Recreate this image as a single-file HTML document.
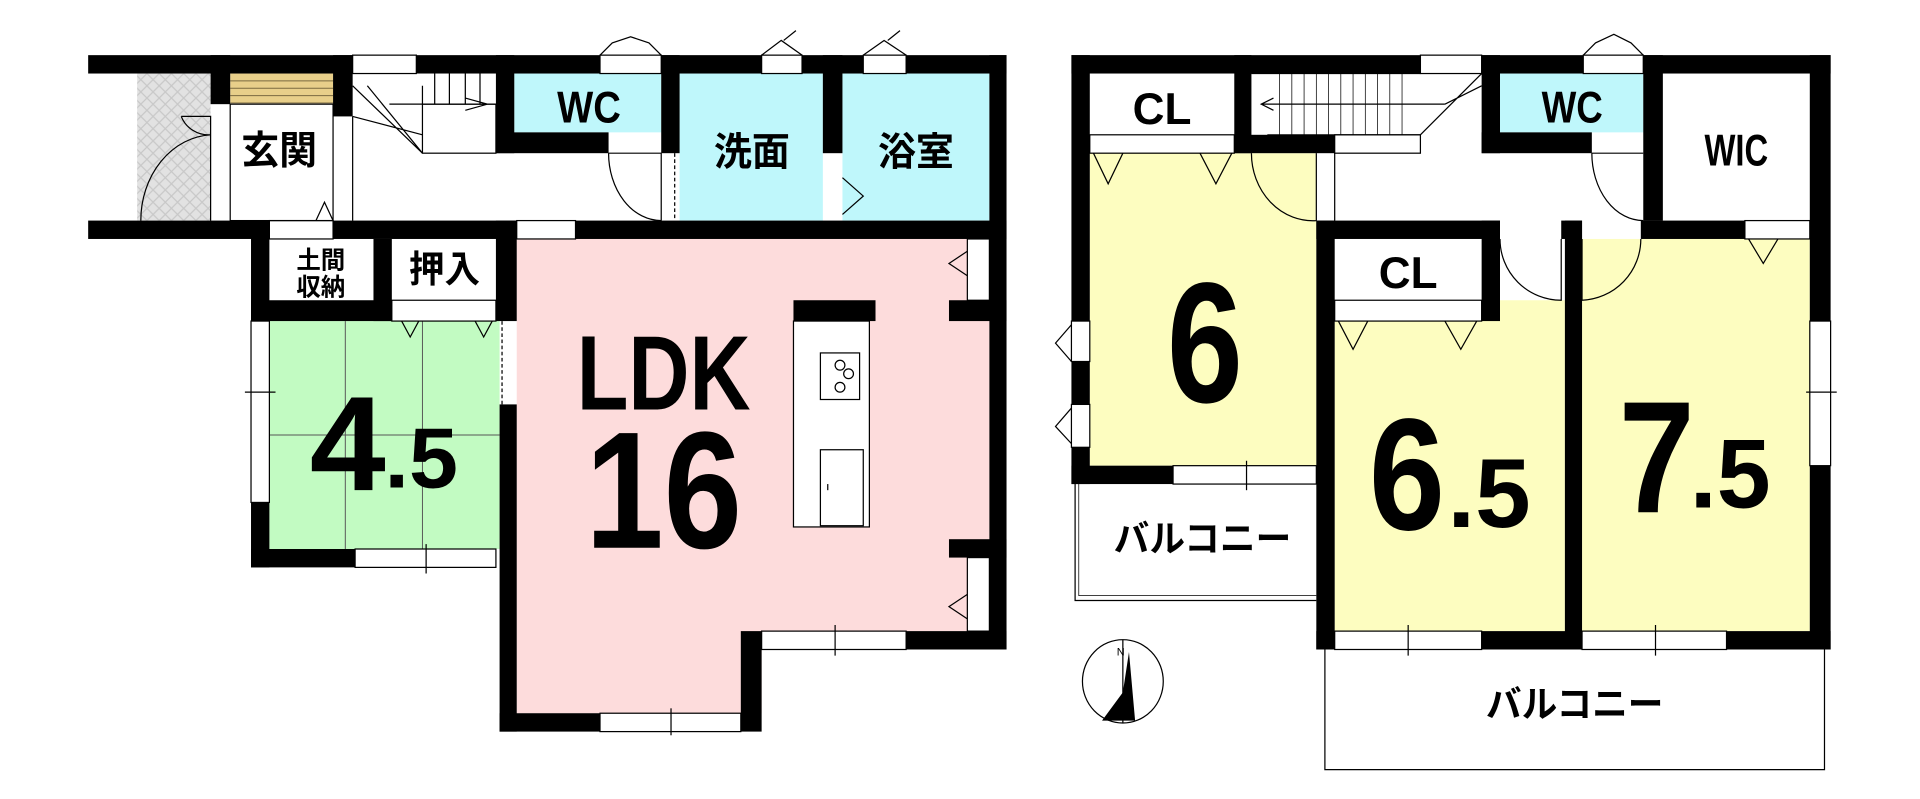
<!DOCTYPE html>
<html><head><meta charset="utf-8"><style>
html,body{margin:0;padding:0;background:#fff;}
svg{display:block}
text{font-family:"Liberation Sans","Noto Sans CJK JP",sans-serif;font-weight:bold;fill:#000}
</style></head><body>
<svg width="1920" height="799" viewBox="0 0 1568 652" preserveAspectRatio="none" xmlns="http://www.w3.org/2000/svg">
<defs>
<pattern id="hatch" width="10" height="10" patternUnits="userSpaceOnUse"><rect width="10" height="10" fill="#e2e2e2"/><path d="M0 0L10 10M10 0L0 10" stroke="#c8c8c8" stroke-width="1"/></pattern>
</defs>
<rect x="112" y="60" width="60" height="120" fill="url(#hatch)"/>
<rect x="188" y="60" width="84" height="24" fill="#e8cf8a"/>
<g stroke="#7a6a40" stroke-width="0.8"><line x1="188" y1="66" x2="272" y2="66"/><line x1="188" y1="72" x2="272" y2="72"/><line x1="188" y1="78" x2="272" y2="78"/><line x1="188" y1="84" x2="272" y2="84"/></g>
<rect x="420" y="60" width="120" height="48" fill="#bff7fb"/>
<rect x="555" y="60" width="117" height="120" fill="#bff7fb"/>
<rect x="688" y="60" width="120" height="120" fill="#bff7fb"/>
<rect x="220" y="262" width="188" height="186" fill="#c2fbc2"/>
<g stroke="#555" stroke-width="0.8"><line x1="282" y1="262" x2="282" y2="448"/><line x1="345" y1="262" x2="345" y2="448"/><line x1="220" y1="355" x2="408" y2="355"/></g>
<polygon points="422,195 808,195 808,515 622,515 622,582 422,582" fill="#fddcdc"/>
<rect x="1225" y="60" width="117" height="48" fill="#bff7fb"/>
<rect x="890" y="125" width="185" height="255" fill="#fdfdc0"/>
<rect x="1090" y="245" width="188" height="270" fill="#fdfdc0"/>
<rect x="1292" y="195" width="186" height="320" fill="#fdfdc0"/>
<g fill="#000">
<rect x="72" y="45" width="750" height="15"/>
<rect x="72" y="180" width="350" height="15"/>
<rect x="470" y="180" width="352" height="15"/>
<rect x="172" y="45" width="16" height="40"/>
<rect x="272" y="45" width="16" height="50"/>
<rect x="405" y="45" width="15" height="80"/>
<rect x="405" y="108" width="92" height="17"/>
<rect x="540" y="45" width="15" height="80"/>
<rect x="672" y="45" width="16" height="80"/>
<rect x="808" y="45" width="14" height="485"/>
<rect x="205" y="180" width="15" height="82"/>
<rect x="205" y="245" width="115" height="17"/>
<rect x="305" y="195" width="15" height="67"/>
<rect x="405" y="180" width="17" height="82"/>
<rect x="408" y="330" width="14" height="267"/>
<rect x="205" y="410" width="15" height="53"/>
<rect x="205" y="448" width="85" height="15"/>
<rect x="408" y="582" width="82" height="15"/>
<rect x="605" y="515" width="17" height="82"/>
<rect x="740" y="515" width="82" height="15"/>
<rect x="648" y="245" width="67" height="17"/>
<rect x="775" y="245" width="47" height="17"/>
<rect x="775" y="440" width="47" height="15"/>
<rect x="875" y="45" width="620" height="15"/>
<rect x="875" y="45" width="15" height="217"/>
<rect x="875" y="295" width="15" height="35"/>
<rect x="875" y="365" width="15" height="30"/>
<rect x="875" y="380" width="83" height="15"/>
<rect x="1008" y="45" width="14" height="80"/>
<rect x="1008" y="110" width="82" height="15"/>
<rect x="1210" y="45" width="15" height="80"/>
<rect x="1210" y="108" width="90" height="17"/>
<rect x="1342" y="45" width="16" height="135"/>
<rect x="1478" y="45" width="17" height="217"/>
<rect x="1478" y="380" width="17" height="150"/>
<rect x="1075" y="180" width="150" height="15"/>
<rect x="1275" y="180" width="17" height="15"/>
<rect x="1340" y="180" width="85" height="15"/>
<rect x="1075" y="180" width="15" height="350"/>
<rect x="1210" y="180" width="15" height="82"/>
<rect x="1278" y="180" width="14" height="350"/>
<rect x="1075" y="515" width="15" height="15"/>
<rect x="1210" y="515" width="82" height="15"/>
<rect x="1410" y="515" width="85" height="15"/>
</g>
<g fill="#fff" stroke="#000" stroke-width="1">
<rect x="288" y="45" width="52" height="15"/>
<rect x="490" y="45" width="50" height="15"/>
<rect x="622" y="45" width="33" height="15"/>
<rect x="705" y="45" width="35" height="15"/>
<rect x="220" y="180" width="52" height="15"/>
<rect x="422" y="180" width="48" height="15"/>
<rect x="320" y="245" width="85" height="17"/>
<rect x="290" y="448" width="115" height="15"/>
<rect x="205" y="262" width="15" height="148"/>
<rect x="490" y="582" width="115" height="15"/>
<rect x="622" y="515" width="118" height="15"/>
<rect x="790" y="195" width="18" height="50"/>
<rect x="790" y="455" width="18" height="60"/>
<rect x="648" y="262" width="62" height="168"/>
<rect x="670" y="288" width="32" height="38"/>
<rect x="670" y="367" width="35" height="62"/>
<rect x="345" y="85" width="60" height="40"/>
<rect x="1160" y="45" width="50" height="15"/>
<rect x="1293" y="45" width="49" height="15"/>
<rect x="875" y="262" width="15" height="33"/>
<rect x="875" y="330" width="15" height="35"/>
<rect x="958" y="380" width="117" height="15"/>
<rect x="890" y="110" width="118" height="15"/>
<rect x="1090" y="245" width="120" height="17"/>
<rect x="1090" y="515" width="120" height="15"/>
<rect x="1292" y="515" width="118" height="15"/>
<rect x="1478" y="262" width="17" height="118"/>
<rect x="1425" y="180" width="53" height="15"/>
<rect x="1090" y="110" width="70" height="15"/>
</g>
<g fill="none" stroke="#000" stroke-width="1">
<rect x="188" y="85" width="84" height="95"/>
<line x1="288" y1="95" x2="288" y2="180"/>
<path d="M148 95 L172 95 L172 180 M172 110 A60 70 0 0 0 115 180 M148 95 A24 24 0 0 0 172 110"/>
<path d="M258 180 L265 165 L272 180"/>
<path d="M288 70 L345 125 M288 95 L345 110 M300 70 L345 125 M345 70 L345 85 M355 60 L355 85 M367 60 L367 85 M380 60 L380 85 M392 60 L392 85 M318 85 L405 85 M380 80 L398 85 L380 90"/>
<path d="M497 125 L540 125 L540 180 M497 125 A43 55 0 0 0 540 180"/>
<path d="M688 145 L705 160 L688 175"/>
<path d="M490 45 L500 35 L515 30 L530 35 L540 45"/>
<path d="M622 45 L638 33 L655 45 M640 33 L650 25"/>
<path d="M705 45 L722 33 L740 45 M725 33 L735 25"/>
<path d="M790 205 L775 215 L790 225 M790 485 L775 495 L790 505"/>
<path d="M328 262 L335 275 L342 262 M388 262 L395 275 L402 262"/>
<line x1="472" y1="185" x2="520" y2="185" stroke-dasharray="3,2"/>
<line x1="410" y1="262" x2="410" y2="330" stroke-dasharray="3,2"/>
<line x1="551" y1="80" x2="551" y2="180" stroke-dasharray="3,2"/>
<circle cx="686" cy="298" r="4"/><circle cx="693" cy="305" r="4"/><circle cx="686" cy="316" r="4"/>
<line x1="676" y1="395" x2="676" y2="400"/>
<path d="M893 125 L905 150 L917 125 M980 125 L993 150 L1006 125"/>
<path d="M1022 125 A50 55 0 0 0 1075 180 M1075 125 L1075 180 M1090 125 L1090 180"/>
<path d="M1022 60 L1160 60 M1035 110 L1160 110 M1030 85 L1180 85 M1040 80 L1030 85 L1040 90 M1160 110 L1210 60 M1180 85 L1210 70"/>
<g stroke-width="0.6"><line x1="1045" y1="60" x2="1045" y2="110"/><line x1="1055" y1="60" x2="1055" y2="110"/><line x1="1065" y1="60" x2="1065" y2="110"/><line x1="1075" y1="60" x2="1075" y2="110"/><line x1="1085" y1="60" x2="1085" y2="110"/><line x1="1095" y1="60" x2="1095" y2="110"/><line x1="1105" y1="60" x2="1105" y2="110"/><line x1="1115" y1="60" x2="1115" y2="110"/><line x1="1125" y1="60" x2="1125" y2="110"/><line x1="1135" y1="60" x2="1135" y2="110"/><line x1="1145" y1="60" x2="1145" y2="110"/></g>
<path d="M1300 125 L1342 125 M1300 125 A42 55 0 0 0 1342 180"/>
<path d="M1293 45 L1303 35 L1318 28 L1332 35 L1342 45"/>
<path d="M1225 195 A50 50 0 0 0 1275 245 L1275 195 M1340 195 A50 50 0 0 1 1292 245 L1292 195"/>
<path d="M1093 262 L1105 285 L1117 262 M1180 262 L1193 285 L1206 262"/>
<path d="M1428 195 L1440 215 L1452 195"/>
<path d="M875 265 L862 280 L875 295 M875 333 L862 348 L875 362"/>
<path d="M878 395 L878 490 L1075 490"/>
<path d="M1082 530 L1082 628 L1490 628 L1490 530"/>
<path d="M881 395 L881 486 L1075 486" stroke-width="0.6"/>
<line x1="1018" y1="376" x2="1018" y2="400"/>
<line x1="1150" y1="510" x2="1150" y2="535"/><line x1="1352" y1="510" x2="1352" y2="535"/>
<line x1="548" y1="578" x2="548" y2="600"/><line x1="682" y1="510" x2="682" y2="535"/><line x1="348" y1="444" x2="348" y2="468"/>
<line x1="200" y1="320" x2="225" y2="320"/><line x1="1475" y1="320" x2="1500" y2="320"/>
<ellipse cx="917" cy="556" rx="33" ry="34"/>
</g>
<polygon points="900,588 917,565 922,532 927,588" fill="#000"/>
<line x1="917" y1="522" x2="917" y2="590" stroke="#000" stroke-width="1"/>
<text x="912" y="535" font-size="9" style="font-weight:normal">N</text>
<text x="228" y="134" font-size="32" text-anchor="middle" textLength="62" lengthAdjust="spacingAndGlyphs">玄関</text>
<text x="481" y="100" font-size="36" text-anchor="middle" textLength="52" lengthAdjust="spacingAndGlyphs">WC</text>
<text x="614" y="135" font-size="32" text-anchor="middle" textLength="62" lengthAdjust="spacingAndGlyphs">洗面</text>
<text x="748" y="135" font-size="32" text-anchor="middle" textLength="62" lengthAdjust="spacingAndGlyphs">浴室</text>
<text x="262" y="219" font-size="20" text-anchor="middle">土間</text>
<text x="262" y="241" font-size="20" text-anchor="middle">収納</text>
<text x="363" y="230" font-size="30" text-anchor="middle" textLength="58" lengthAdjust="spacingAndGlyphs">押入</text>
<text x="253" y="400" font-size="110" textLength="62" lengthAdjust="spacingAndGlyphs">4</text>
<text x="314" y="398" font-size="70" textLength="60" lengthAdjust="spacingAndGlyphs">.5</text>
<text x="471" y="334" font-size="86" textLength="142" lengthAdjust="spacingAndGlyphs">LDK</text>
<text x="478" y="447" font-size="136" textLength="128" lengthAdjust="spacingAndGlyphs">16</text>
<text x="949" y="101" font-size="36" text-anchor="middle" textLength="48" lengthAdjust="spacingAndGlyphs">CL</text>
<text x="1284" y="100" font-size="36" text-anchor="middle" textLength="50" lengthAdjust="spacingAndGlyphs">WC</text>
<text x="1418" y="135" font-size="36" text-anchor="middle" textLength="52" lengthAdjust="spacingAndGlyphs">WIC</text>
<text x="1150" y="235" font-size="36" text-anchor="middle" textLength="48" lengthAdjust="spacingAndGlyphs">CL</text>
<text x="953" y="328" font-size="140" textLength="62" lengthAdjust="spacingAndGlyphs">6</text>
<text x="1118" y="432" font-size="130" textLength="62" lengthAdjust="spacingAndGlyphs">6</text>
<text x="1182" y="430" font-size="80" textLength="68" lengthAdjust="spacingAndGlyphs">.5</text>
<text x="1322" y="418" font-size="130" textLength="62" lengthAdjust="spacingAndGlyphs">7</text>
<text x="1380" y="414" font-size="80" textLength="66" lengthAdjust="spacingAndGlyphs">.5</text>
<text x="982" y="450" font-size="30" text-anchor="middle" textLength="145" lengthAdjust="spacingAndGlyphs">バルコニー</text>
<text x="1286" y="585" font-size="30" text-anchor="middle" textLength="145" lengthAdjust="spacingAndGlyphs">バルコニー</text>
</svg>
</body></html>
